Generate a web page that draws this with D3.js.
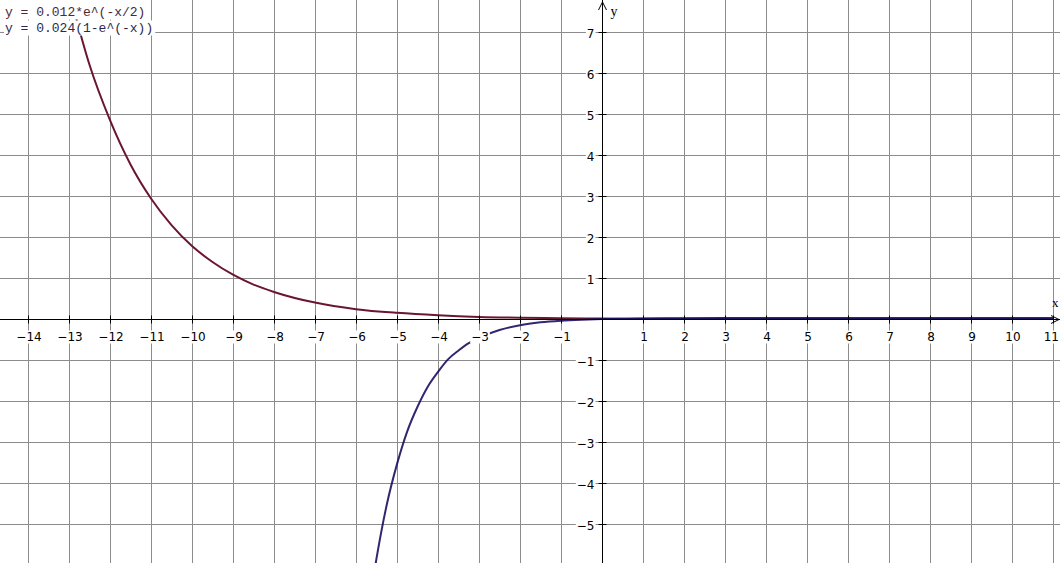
<!DOCTYPE html>
<html>
<head>
<meta charset="utf-8">
<script src="https://cdn.jsdelivr.net/npm/d3@7"></script>
<style>
  html, body { margin: 0; padding: 0; background: #fff; }
  svg { display: block; }
</style>
</head>
<body>
<div id="chart"></div>
<script>
const width = 1060;
const height = 563;

// tick labels
const xTicks = [-14,-13,-12,-11,-10,-9,-8,-7,-6,-5,-4,-3,-2,-1,1,2,3,4,5,6,7,8,9,10,11];
const yTicks = [-5,-4,-3,-2,-1,1,2,3,4,5,6,7];
const xGrid = d3.range(-14, 12);
const yGrid = d3.range(-6, 8);

// legend
const legend = ["y = 0.012*e^(-x/2)", "y = 0.024(1-e^(-x))"];

// curve 1
const redX = [-13, -12.5, -12, -11.5, -11, -10.5, -10, -9.5, -9, -8.5, -8, -7, -6, -5, -4, -3, -2, -1, 0, 2, 5, 11];
const redY = [8.0, 6.2, 4.85, 3.77, 2.94, 2.29, 1.78, 1.39, 1.08, 0.84, 0.66, 0.40, 0.24, 0.15, 0.09, 0.05, 0.03, 0.02, 0.012, 0.004, 0.001, 0.0];

// curve 2
const blueX = [-5.6, -5.5, -5.25, -5, -4.75, -4.5, -4.25, -4, -3.75, -3.5, -3.25, -3, -2.5, -2, -1.5, -1, -0.5, 0, 1, 2, 4, 11];
const blueY = [-6.45, -5.84, -4.53, -3.54, -2.74, -2.14, -1.65, -1.29, -0.98, -0.77, -0.59, -0.46, -0.27, -0.15, -0.08, -0.04, -0.016, 0, 0.015, 0.021, 0.024, 0.024];

const x = d3.scaleLinear().domain([-14, 11]).range([28, 1053]);
const y = d3.scaleLinear().domain([-6, 7]).range([565, 32]);

const svg = d3.select("#chart")
    .append("svg")
    .attr("width", width)
    .attr("height", height);

svg.append("defs").append("clipPath")
    .attr("id", "clip")
    .append("rect")
    .attr("width", width)
    .attr("height", height);

// grid
svg.append("g")
    .selectAll("line")
    .data(xGrid)
    .join("line")
    .attr("x1", d => x(d) + 0.5)
    .attr("x2", d => x(d) + 0.5)
    .attr("y1", 0)
    .attr("y2", height)
    .attr("stroke", "#8c8c8c")
    .attr("stroke-width", 1);

svg.append("g")
    .selectAll("line")
    .data(yGrid)
    .join("line")
    .attr("x1", 0)
    .attr("x2", width)
    .attr("y1", d => y(d) + 0.5)
    .attr("y2", d => y(d) + 0.5)
    .attr("stroke", "#8c8c8c")
    .attr("stroke-width", 1);

// curves
const line = d3.line()
    .x(d => x(d[0]))
    .y(d => y(d[1]))
    .curve(d3.curveMonotoneX);

const plot = svg.append("g").attr("clip-path", "url(#clip)");

plot.append("path")
    .datum(redX.map((v, i) => [v, redY[i]]))
    .attr("d", line)
    .attr("fill", "none")
    .attr("stroke", "#6b1630")
    .attr("stroke-width", 2);

plot.append("path")
    .datum(blueX.map((v, i) => [v, blueY[i]]))
    .attr("d", line)
    .attr("fill", "none")
    .attr("stroke", "#1a1060")
    .attr("stroke-width", 2)
    .attr("stroke-opacity", 0.9);

// axes
const ox = x(0) + 0.5;
const oy = y(0) + 0.5;

svg.append("line")
    .attr("x1", 0).attr("x2", width)
    .attr("y1", oy).attr("y2", oy)
    .attr("stroke", "#000");

svg.append("line")
    .attr("x1", ox).attr("x2", ox)
    .attr("y1", 0).attr("y2", height)
    .attr("stroke", "#000");

// arrows
svg.append("path")
    .attr("d", `M${ox - 4},${10} L${ox},${2} L${ox + 4},${10}`)
    .attr("fill", "none")
    .attr("stroke", "#000");

svg.append("path")
    .attr("d", `M${width - 9},${oy - 4} L${width - 1},${oy} L${width - 9},${oy + 4}`)
    .attr("fill", "none")
    .attr("stroke", "#000");

svg.append("text")
    .attr("x", ox + 8).attr("y", 16)
    .attr("font-family", "Liberation Serif, serif")
    .attr("font-size", 14)
    .text("y");

svg.append("text")
    .attr("x", 1052).attr("y", 307)
    .attr("font-family", "Liberation Serif, serif")
    .attr("font-size", 13)
    .text("x");

// tick labels with white boxes
function label(g, tx, ty, txt, anchor) {
    const t = g.append("text")
        .attr("x", tx).attr("y", ty)
        .attr("text-anchor", anchor)
        .attr("dominant-baseline", "central")
        .attr("font-family", "DejaVu Sans, sans-serif")
        .attr("font-size", 12)
        .attr("fill", "#000")
        .text(txt);
    let b = t.node().getBBox();
    // keep labels inside the picture
    if (b.x + b.width > width - 1) {
        t.attr("x", tx - (b.x + b.width - (width - 1)));
        b = t.node().getBBox();
    }
    g.insert("rect", "text")
        .attr("x", b.x - 1).attr("y", b.y + 1)
        .attr("width", b.width + 2).attr("height", b.height - 1)
        .attr("fill", "#fff");
}

const fmt = d => String(d).replace("-", "\u2212");

const xl = svg.append("g");
xTicks.forEach(d => label(xl, x(d) + 1, oy + 17, fmt(d), "middle"));
const yl = svg.append("g");
yTicks.forEach(d => label(yl, ox - 8, y(d) + 1.5, fmt(d), "end"));

// ticks
svg.append("g")
    .selectAll("line")
    .data(xTicks)
    .join("line")
    .attr("x1", d => x(d) + 0.5).attr("x2", d => x(d) + 0.5)
    .attr("y1", oy - 4).attr("y2", oy + 4)
    .attr("stroke", "#000");

svg.append("g")
    .selectAll("line")
    .data(yTicks)
    .join("line")
    .attr("x1", ox - 4).attr("x2", ox + 4)
    .attr("y1", d => y(d) + 0.5).attr("y2", d => y(d) + 0.5)
    .attr("stroke", "#000");

// legend
const lg = svg.append("g");
legend.forEach((s, i) => {
    const t = lg.append("text")
        .attr("x", 5).attr("y", 12 + i * 16)
        .attr("dominant-baseline", "central")
        .attr("font-family", "Liberation Mono, monospace")
        .attr("font-size", 13)
        .attr("fill", i === 0 ? "#4a2a38" : "#2a2a50")
        .text(s);
    const b = t.node().getBBox();
    lg.insert("rect", "text")
        .attr("x", b.x - 1).attr("y", i === 0 ? 0 : b.y)
        .attr("width", b.width + 3).attr("height", i === 0 ? b.y + b.height : b.height)
        .attr("fill", "#fff");
});
</script>
</body>
</html>
